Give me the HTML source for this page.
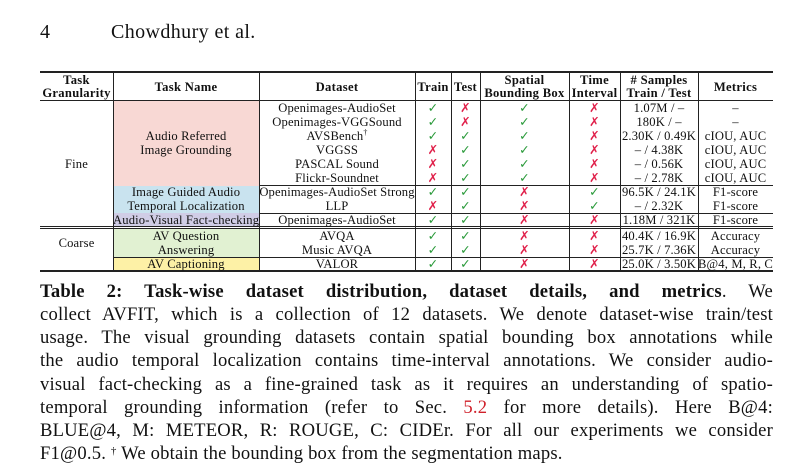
<!DOCTYPE html>
<html><head><meta charset="utf-8">
<style>
body{margin:0;width:785px;height:475px;background:#fff;position:relative;overflow:hidden;font-family:"Liberation Serif",serif;color:#111}
.a{position:absolute;white-space:nowrap}
.c{position:absolute;text-align:center;font-size:12.6px;line-height:14px;white-space:nowrap;letter-spacing:0.15px}
.h{font-weight:bold;letter-spacing:0.3px}
.hl{position:absolute;background:#222;height:1px}
.vl{position:absolute;background:#222;width:1px}
.bg{position:absolute}
.cap{position:absolute;left:40px;width:733px;font-size:18.6px;line-height:21px;text-align:justify;text-align-last:justify;white-space:nowrap;letter-spacing:0.2px}
.g{color:#2a9a3a}.r{color:#e0204a}
sup{line-height:0;vertical-align:5px}
</style></head><body>
<div class="a" style="left:40px;top:21px;font-size:20px">4</div>
<div class="a" style="left:111px;top:21px;font-size:20px;letter-spacing:0.4px">Chowdhury et al.</div>

<div class="bg" style="left:113px;top:101px;width:146px;height:85px;background:#f8d8d4"></div>
<div class="bg" style="left:113px;top:186px;width:146px;height:27px;background:#c9e3ef"></div>
<div class="bg" style="left:113px;top:213px;width:146px;height:14px;background:#d0cde6"></div>
<div class="bg" style="left:113px;top:229px;width:146px;height:28px;background:#e1f1d2"></div>
<div class="bg" style="left:113px;top:257px;width:146px;height:14px;background:#fdf1a6"></div>

<div id="t"></div>

<div class="cap" style="top:281px"><b>Table 2: Task-wise dataset distribution, dataset details, and metrics</b>. We</div>
<div class="cap" style="top:304px">collect AVFIT, which is a collection of 12 datasets. We denote dataset-wise train/test</div>
<div class="cap" style="top:327px">usage. The visual grounding datasets contain spatial bounding box annotations while</div>
<div class="cap" style="top:350px">the audio temporal localization contains time-interval annotations. We consider audio-</div>
<div class="cap" style="top:374px">visual fact-checking as a fine-grained task as it requires an understanding of spatio-</div>
<div class="cap" style="top:397px">temporal grounding information (refer to Sec. <span style="color:#d0202a">5.2</span> for more details). Here B@4:</div>
<div class="cap" style="top:420px">BLUE@4, M: METEOR, R: ROUGE, C: CIDEr. For all our experiments we consider</div>
<div class="cap" style="top:443px;text-align-last:left">F1@0.5. <sup style="font-size:11px">†</sup> We obtain the bounding box from the segmentation maps.</div>

<script>
var t=document.getElementById('t'),h='';
function hl(x1,x2,y,th){h+='<div class="hl" style="left:'+x1+'px;width:'+(x2-x1)+'px;top:'+y+'px;height:'+(th||1)+'px"></div>';}
function vl(x,y1,y2){h+='<div class="vl" style="left:'+x+'px;top:'+y1+'px;height:'+(y2-y1)+'px"></div>';}
function c(x1,x2,y,txt,cls){h+='<div class="c '+(cls||'')+'" style="left:'+x1+'px;width:'+(x2-x1)+'px;top:'+(y-7)+'px">'+txt+'</div>';}
hl(40,773,71,2);hl(40,773,100);hl(259,773,185);hl(259,773,213);hl(40,773,226);hl(40,773,228);hl(113,773,257);hl(40,773,270,2);
[113,259,415,451,480,569,620,698].forEach(function(x){vl(x,72,271)});
var X=[40,113,259,415,451,480,569,620,698,773];
c(40,113,80,'Task','h');c(40,113,93,'Granularity','h');c(113,259,87,'Task Name','h');c(259,415,87,'Dataset','h');
c(415,451,87,'Train','h');c(451,480,87,'Test','h');c(480,569,80,'Spatial','h');c(480,569,93,'Bounding Box','h');
c(569,620,80,'Time','h');c(569,620,93,'Interval','h');c(620,698,80,'# Samples','h');c(620,698,93,'Train / Test','h');c(698,773,87,'Metrics','h');
c(40,113,164,'Fine');c(40,113,243,'Coarse');
c(113,259,136,'Audio Referred');c(113,259,150,'Image Grounding');
c(113,259,192,'Image Guided Audio');c(113,259,206,'Temporal Localization');c(113,259,220,'Audio-Visual Fact-checking');
c(113,259,236,'AV Question');c(113,259,250,'Answering');c(113,259,264,'AV Captioning');
var Y=[108,122,136,150,164,178,192,206,220,236,250,264];
var R=[['Openimages-AudioSet','1.07M / –','–'],['Openimages-VGGSound','180K / –','–'],['AVSBench<sup style="font-size:8px">†</sup>','2.30K / 0.49K','cIOU, AUC'],
['VGGSS','– / 4.38K','cIOU, AUC'],['PASCAL Sound','– / 0.56K','cIOU, AUC'],['Flickr-Soundnet','– / 2.78K','cIOU, AUC'],
['Openimages-AudioSet Strong','96.5K / 24.1K','F1-score'],['LLP','– / 2.32K','F1-score'],['Openimages-AudioSet','1.18M / 321K','F1-score'],
['AVQA','40.4K / 16.9K','Accuracy'],['Music AVQA','25.7K / 7.36K','Accuracy'],['VALOR','25.0K / 3.50K','B@4, M, R, C']];
var F=[[1,0,1,0],[1,0,1,0],[1,1,1,0],[0,1,1,0],[0,1,1,0],[0,1,1,0],[1,1,0,1],[0,1,0,1],[1,1,0,0],[1,1,0,0],[1,1,0,0],[1,1,0,0]];
R.forEach(function(r,i){var y=Y[i];c(259,415,y,r[0]);
for(var k=0;k<4;k++){var v=F[i][k];c(X[k+3],X[k+4],y,v?'✓':'✗',v?'g':'r');}
c(620,698,y,r[1]);c(698,773,y,r[2]);});
t.innerHTML=h;
</script>
</body></html>
